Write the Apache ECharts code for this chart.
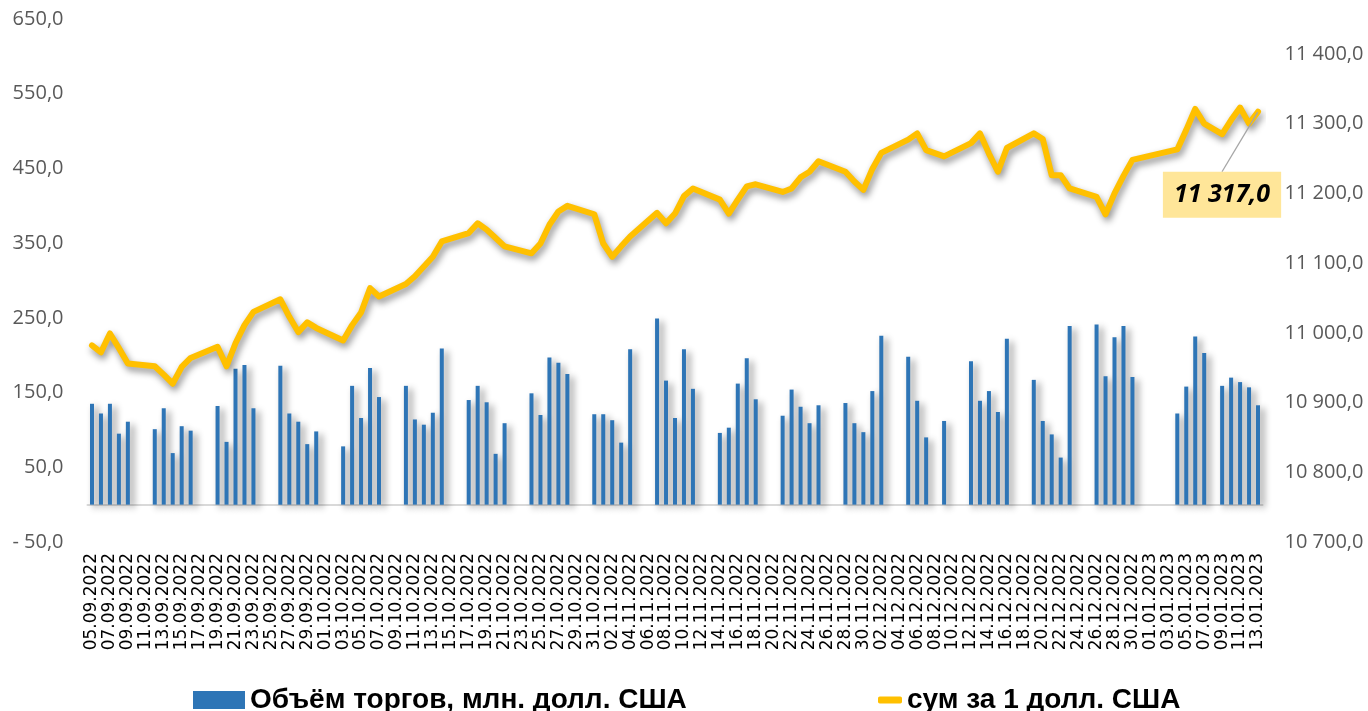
<!DOCTYPE html>
<html>
<head>
<meta charset="utf-8">
<script src="https://cdn.jsdelivr.net/npm/echarts@6/dist/echarts.min.js"></script>
<style>
html,body{margin:0;padding:0;background:#fff;}
#chart{width:1368px;height:711px;}
</style>
</head>
<body>
<div id="chart"></div>
<script>
const dates = [
'05.09.2022','06.09.2022','07.09.2022','08.09.2022','09.09.2022','10.09.2022','11.09.2022',
'12.09.2022','13.09.2022','14.09.2022','15.09.2022','16.09.2022','17.09.2022','18.09.2022',
'19.09.2022','20.09.2022','21.09.2022','22.09.2022','23.09.2022','24.09.2022','25.09.2022',
'26.09.2022','27.09.2022','28.09.2022','29.09.2022','30.09.2022','01.10.2022','02.10.2022',
'03.10.2022','04.10.2022','05.10.2022','06.10.2022','07.10.2022','08.10.2022','09.10.2022',
'10.10.2022','11.10.2022','12.10.2022','13.10.2022','14.10.2022','15.10.2022','16.10.2022',
'17.10.2022','18.10.2022','19.10.2022','20.10.2022','21.10.2022','22.10.2022','23.10.2022',
'24.10.2022','25.10.2022','26.10.2022','27.10.2022','28.10.2022','29.10.2022','30.10.2022',
'31.10.2022','01.11.2022','02.11.2022','03.11.2022','04.11.2022','05.11.2022','06.11.2022',
'07.11.2022','08.11.2022','09.11.2022','10.11.2022','11.11.2022','12.11.2022','13.11.2022',
'14.11.2022','15.11.2022','16.11.2022','17.11.2022','18.11.2022','19.11.2022','20.11.2022',
'21.11.2022','22.11.2022','23.11.2022','24.11.2022','25.11.2022','26.11.2022','27.11.2022',
'28.11.2022','29.11.2022','30.11.2022','01.12.2022','02.12.2022','03.12.2022','04.12.2022',
'05.12.2022','06.12.2022','07.12.2022','08.12.2022','09.12.2022','10.12.2022','11.12.2022',
'12.12.2022','13.12.2022','14.12.2022','15.12.2022','16.12.2022','17.12.2022','18.12.2022',
'19.12.2022','20.12.2022','21.12.2022','22.12.2022','23.12.2022','24.12.2022','25.12.2022',
'26.12.2022','27.12.2022','28.12.2022','29.12.2022','30.12.2022','31.12.2022','01.01.2023',
'02.01.2023','03.01.2023','04.01.2023','05.01.2023','06.01.2023','07.01.2023','08.01.2023',
'09.01.2023','10.01.2023','11.01.2023','12.01.2023','13.01.2023'
];

const volume = [
135,122,135,95,111,null,null,
101,129,69,105,99,null,null,
132,84,182,187,129,null,null,
186,122,111,81,98,null,null,
78,159,116,183,144,null,null,
159,114,107,123,209,null,null,
140,159,137,68,109,null,null,
149,120,197,190,175,null,null,
121,121,113,83,208,null,null,
249,166,116,208,155,null,null,
96,103,162,196,141,null,null,
119,154,131,109,133,null,null,
136,109,97,152,226,null,null,
198,139,90,null,112,null,null,
192,139,152,124,222,null,null,
167,112,94,63,239,null,null,
241,172,224,239,171,null,null,
null,null,122,158,225,203,null,
159,170,164,157,133
];

const rate = [
10982,10972,10999,10978,10956,null,null,
10952,10940,10927,10951,10964,null,null,
10980,10952,10985,11011,11030,null,null,
11048,11023,11001,11015,11007,null,null,
10989,11011,11029,11064,11052,null,null,
11070,11081,11095,11109,11131,null,null,
11143,11157,11148,11136,11124,null,null,
11114,11128,11155,11174,11182,null,null,
11170,11128,11109,11124,11138,null,null,
11172,11157,11171,11196,11207,null,null,
11191,11171,11191,11210,11213,null,null,
11202,11207,11223,11231,11246,null,null,
11231,11217,11205,11235,11258,null,null,
11277,11286,11262,null,11253,null,null,
11272,11286,11257,11231,11265,null,null,
11286,11278,11226,11226,11207,null,null,
11195,11170,11200,11225,11248,null,null,
null,null,11263,11291,11321,11300,null,
11285,11305,11323,11300,11317
];

const leftTicks = {min: -50, max: 650, step: 100};
const rightTicks = {min: 10700, max: 11450, step: 100};
const seriesNames = ['Объём торгов, млн. долл. США', 'сум за 1 долл. США'];

function fmtLeft(v) {
  const s = Math.abs(v).toFixed(1).replace('.', ',');
  return v < 0 ? '- ' + s : s;
}
function fmtThousands(v) {
  const th = Math.floor(v / 1000);
  const rest = String(Math.floor(v % 1000)).padStart(3, '0');
  const dec = Math.round(v * 10) % 10;
  return th + ' ' + rest + ',' + dec;
}
function fmtRight(v) {
  if (Math.round(v) % 100 !== 0) return '';
  return fmtThousands(v);
}

const lastIdx = rate.length - 1;
const rateData = rate.map((v, i) => {
  if (i !== lastIdx) return v;
  return {
    value: v,
    label: {
      show: true,
      position: 'inside',
      formatter: p => fmtThousands(p.value),
      backgroundColor: '#FFE699',
      padding: [11, 11, 10, 11],
      fontFamily: "'Open Sans', sans-serif",
      fontSize: 25,
      fontWeight: 'bold',
      fontStyle: 'italic',
      color: '#000'
    }
  };
});

const chart = echarts.init(document.getElementById('chart'), null, {renderer: 'canvas'});
chart.setOption({
  animation: false,
  backgroundColor: '#fff',
  grid: {left: 87.5, right: 105.5, top: 19, bottom: 169, containLabel: false},
  legend: [
    {
      data: [seriesNames[0]], left: 188, top: 681, icon: 'rect', itemWidth: 52, itemHeight: 18,
      textStyle: {fontFamily: "'Liberation Sans', Arial, sans-serif", fontWeight: 'bold', fontSize: 28, color: '#000'}
    },
    {
      data: [seriesNames[1]], left: 873, top: 681, icon: 'roundRect', itemWidth: 24, itemHeight: 7,
      textStyle: {fontFamily: "'Liberation Sans', Arial, sans-serif", fontWeight: 'bold', fontSize: 28, color: '#000'}
    }
  ],
  xAxis: {
    type: 'category',
    data: dates,
    boundaryGap: true,
    axisLine: {onZero: true, onZeroAxisIndex: 0, lineStyle: {color: '#D9D9D9', width: 2}},
    axisTick: {show: false},
    axisLabel: {interval: 1, rotate: 90, margin: 11, fontFamily: "'DejaVu Sans', sans-serif", fontSize: 17, color: '#000'},
    splitLine: {show: false}
  },
  yAxis: [
    {
      type: 'value', min: leftTicks.min, max: leftTicks.max, interval: leftTicks.step,
      axisLine: {show: false}, axisTick: {show: false}, splitLine: {show: false},
      axisLabel: {formatter: fmtLeft, margin: 24, padding: [6, 0, 0, 0], fontFamily: "'Open Sans', sans-serif", fontSize: 20, color: '#595959'}
    },
    {
      type: 'value', min: rightTicks.min, max: rightTicks.max, interval: rightTicks.step,
      position: 'right',
      axisLine: {show: false}, axisTick: {show: false}, splitLine: {show: false},
      axisLabel: {formatter: fmtRight, showMaxLabel: false, margin: 22, padding: [6, 0, 0, 0], fontFamily: "'Open Sans', sans-serif", fontSize: 20, color: '#595959'}
    }
  ],
  series: [
    {
      name: seriesNames[0],
      type: 'bar',
      yAxisIndex: 0,
      data: volume,
      barWidth: 4,
      itemStyle: {color: '#2E75B6', shadowColor: 'rgba(0,0,0,0.45)', shadowBlur: 7, shadowOffsetX: 4, shadowOffsetY: 3}
    },
    {
      name: seriesNames[1],
      type: 'line',
      yAxisIndex: 1,
      data: rateData,
      connectNulls: true,
      symbol: 'circle',
      symbolSize: 1,
      showSymbol: true,
      itemStyle: {color: '#FFC000'},
      lineStyle: {color: '#FFC000', width: 6, join: 'round', cap: 'round', shadowColor: 'rgba(0,0,0,0.45)', shadowBlur: 7, shadowOffsetX: 2, shadowOffsetY: 4},
      labelLayout: {dx: -36, dy: 83},
      labelLine: {show: true, lineStyle: {color: '#A6A6A6', width: 1.3}},
      z: 5
    }
  ]
});
</script>
</body>
</html>
